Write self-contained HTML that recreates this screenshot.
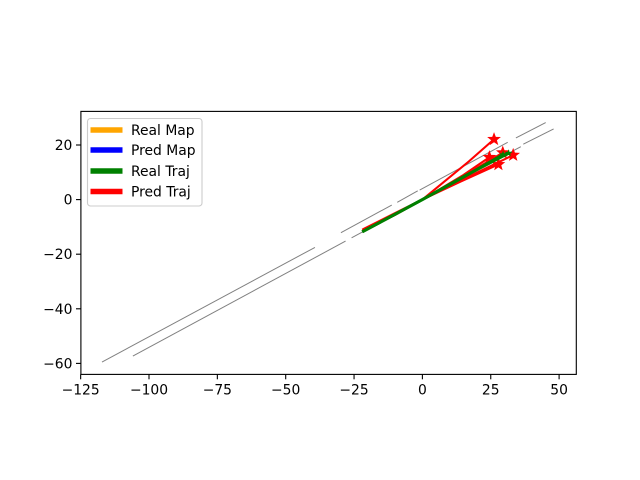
<!DOCTYPE html>
<html lang="en">
<head>
<meta charset="utf-8">
<title>Map and trajectory chart</title>
<style>
html,body{margin:0;padding:0;background:#fff;width:640px;height:480px;overflow:hidden}
svg{display:block}
text{font-family:"DejaVu Sans","Liberation Sans",sans-serif;font-size:13.89px;fill:#000}
</style>
</head>
<body>
<svg id="chart" xmlns="http://www.w3.org/2000/svg" width="640" height="480" viewBox="0 0 640 480">
  <rect x="0" y="0" width="640" height="480" fill="#fff"/>
  <g id="map"></g>
  <g id="pred"></g>
  <g id="real"></g>
  <g id="ticks"></g>
  <rect x="80.9" y="111.4" width="495.4" height="263" fill="none" stroke="#000" stroke-width="1.11"/>
  <g>
    <rect x="87.5" y="118.5" width="114.5" height="87.5" rx="3" fill="#fff" fill-opacity="0.8" stroke="#ccc" stroke-width="1.1"/>
    <g>
      <line x1="90.5" x2="122.5" y1="130" y2="130" stroke="orange" stroke-width="5.5"/>
      <text x="131" y="135">Real Map</text>
    </g>
    <g>
      <line x1="90.5" x2="122.5" y1="150" y2="150" stroke="blue" stroke-width="5.5"/>
      <text x="131" y="155">Pred Map</text>
    </g>
    <g>
      <line x1="90.5" x2="122.5" y1="171" y2="171" stroke="green" stroke-width="5.5"/>
      <text x="131" y="176">Real Traj</text>
    </g>
    <g>
      <line x1="90.5" x2="122.5" y1="191.5" y2="191.5" stroke="red" stroke-width="5.5"/>
      <text x="131" y="196.5">Pred Traj</text>
    </g>
  </g>
</svg>
<script>
const xTicks = [-125, -100, -75, -50, -25, 0, 25, 50];
const yTicks = [-60, -40, -20, 0, 20];

const mapSegmentsX = [
  [-117.2, -39.3], [-29.8, -11.2], [-9.2, -1.7], [-1, 31.2], [34.2, 45.1],
  [-105.9, -28.1], [-25.9, 36], [36.9, 48]
];
const mapSegmentsY = [
  [-59.5, -17.5], [-12.1, -2], [-1, 3.2], [3.5, 21], [22.6, 28.2],
  [-57.3, -15.2], [-14, 19.4], [20.3, 25.9]
];

const predTrajX = [
  [-22, -10, 0, 17, 26.2],
  [-21.5, -10, 0, 15, 24.5],
  [-21, -10, 0, 14, 29.4],
  [-22, -10, 0, 16, 33.2],
  [-22, -10, 0, 14, 27.8]
];
const predTrajY = [
  [-11, -5, 0, 14, 22.1],
  [-10.8, -5, 0, 9, 15.5],
  [-11, -5.2, 0, 8, 17.2],
  [-11.5, -5.5, 0, 8, 16.3],
  [-11.6, -5.6, 0, 6.6, 12.9]
];

const realTrajX = [
  [-22, -10, 0, 15, 29.5],
  [-22, -10, 0, 15, 31.5]
];
const realTrajY = [
  [-11.8, -5.4, 0, 8.2, 16.5],
  [-11.8, -5.4, 0, 8.4, 17]
];

const SVG_NS = 'http://www.w3.org/2000/svg';
const plot = { xZero: 422.4, xScale: 2.734, yZero: 199.6, yScale: 2.73, bottom: 374.4, left: 80.9 };
const xPos = v => plot.xZero + plot.xScale * v;
const yPos = v => plot.yZero - plot.yScale * v;

function svgEl(tag, parentId) {
  const el = document.createElementNS(SVG_NS, tag);
  document.getElementById(parentId).appendChild(el);
  return el;
}

function linePath(xs, ys) {
  return xs.map((x, i) => (i ? 'L' : 'M') + xPos(x).toFixed(2) + ' ' + yPos(ys[i]).toFixed(2)).join(' ');
}

function starPoints(cx, cy, outer) {
  const inner = outer * 0.42;
  const pts = [];
  for (let i = 0; i < 10; i++) {
    const r = i % 2 ? inner : outer;
    const a = -Math.PI / 2 + i * Math.PI / 5;
    pts.push((cx + r * Math.cos(a)).toFixed(2) + ',' + (cy + r * Math.sin(a)).toFixed(2));
  }
  return pts.join(' ');
}

mapSegmentsX.forEach((xs, i) => {
  const p = svgEl('path', 'map');
  
  
  p.setAttribute('d', linePath(xs, mapSegmentsY[i]));
  p.setAttribute('fill', 'none');
  p.setAttribute('stroke', '#808080');
  p.setAttribute('stroke-width', '1');
});

predTrajX.forEach((xs, i) => {
  const ys = predTrajY[i];
  const p = svgEl('path', 'pred');
  
  
  p.setAttribute('d', linePath(xs, ys));
  p.setAttribute('fill', 'none');
  p.setAttribute('stroke', 'red');
  p.setAttribute('stroke-width', '2.1');
  const s = svgEl('polygon', 'pred');
  
  
  s.setAttribute('points', starPoints(xPos(xs[xs.length - 1]), yPos(ys[ys.length - 1]), 7.2));
  s.setAttribute('fill', 'red');
});

realTrajX.forEach((xs, i) => {
  const ys = realTrajY[i];
  const p = svgEl('path', 'real');
  
  
  p.setAttribute('d', linePath(xs, ys));
  p.setAttribute('fill', 'none');
  p.setAttribute('stroke', 'green');
  p.setAttribute('stroke-width', '3');
  const s = svgEl('polygon', 'real');
  
  
  s.setAttribute('points', starPoints(xPos(xs[xs.length - 1]), yPos(ys[ys.length - 1]), 4));
  s.setAttribute('fill', 'green');
});

const fmt = v => (v < 0 ? '\u2212' + Math.abs(v) : String(v));

xTicks.forEach(v => {
  const t = svgEl('line', 'ticks');
  
  
  t.setAttribute('x1', xPos(v));
  t.setAttribute('x2', xPos(v));
  t.setAttribute('y1', plot.bottom);
  t.setAttribute('y2', plot.bottom + 4.9);
  t.setAttribute('stroke', '#000');
  t.setAttribute('stroke-width', '1.11');
  const l = svgEl('text', 'ticks');
  
  
  l.setAttribute('x', xPos(v));
  l.setAttribute('y', plot.bottom + 20);
  l.setAttribute('text-anchor', 'middle');
  l.textContent = fmt(v);
});

yTicks.forEach(v => {
  const t = svgEl('line', 'ticks');
  
  
  t.setAttribute('x1', plot.left - 4.9);
  t.setAttribute('x2', plot.left);
  t.setAttribute('y1', yPos(v));
  t.setAttribute('y2', yPos(v));
  t.setAttribute('stroke', '#000');
  t.setAttribute('stroke-width', '1.11');
  const l = svgEl('text', 'ticks');
  
  
  l.setAttribute('x', plot.left - 8.5);
  l.setAttribute('y', yPos(v) + 5);
  l.setAttribute('text-anchor', 'end');
  l.textContent = fmt(v);
});
</script>
</body>
</html>
